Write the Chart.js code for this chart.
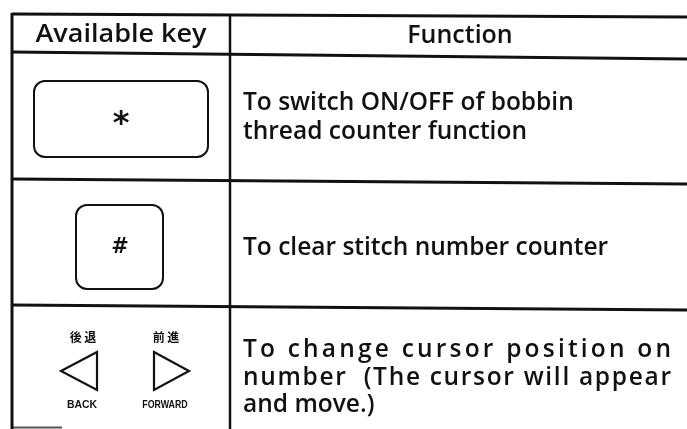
<!DOCTYPE html>
<html>
<head>
<meta charset="utf-8">
<script src="https://cdn.jsdelivr.net/npm/chart.js@4"></script>
<style>
  html, body { margin: 0; padding: 0; background: #fff; }
  #wrap { width: 687px; height: 429px; }
</style>
</head>
<body>
<div id="wrap"><canvas id="keyTable"></canvas></div>
<script>
// table contents
const HEADERS = ['Available key', 'Function']
const KEY_SYMBOLS = ['*', '#']
const ARROW_KANJI = ['後 退', '前 進']
const ARROW_NAMES = ['BACK', 'FORWARD']
const FUNCTION_LINES = [
    ['To switch ON/OFF of bobbin', 'thread counter function'],
    ['To clear stitch number counter'],
    ['To change cursor position on', 'number  (The cursor will appear', 'and move.)']
]
const JUSTIFIED = [[false, false], [false], [true, true, false]]

// layout (page units, same as the axes)
const LEFT_X = 12, DIVIDER_X = 230, RIGHT_X = 687
const RULES = [[14, 17], [52, 59], [179, 184], [305, 310]] // [y at left, y at right]
const TEXT_X = 243, JUSTIFY_TO = 671
const FUNCTION_Y = [[103, 132], [248], [350, 378, 405]]
const FONT = '"Open Sans", "Noto Sans", sans-serif'

const ctxEl = document.getElementById('keyTable').getContext('2d')

const tablePlugin = {
    id: 'tablePlugin',
    afterDraw(chart) {
        const ctx = chart.ctx
        const xs = chart.scales.x, ys = chart.scales.y
        const X = (v) => xs.getPixelForValue(v)
        const Y = (v) => ys.getPixelForValue(v)
        ctx.save()
        ctx.strokeStyle = '#111'
        ctx.fillStyle = '#111'

        //Horizontal rules
        ctx.lineWidth = 3
        RULES.forEach((r) => {
            ctx.beginPath()
            ctx.moveTo(X(LEFT_X), Y(r[0]))
            ctx.lineTo(X(RIGHT_X), Y(r[1]))
            ctx.stroke()
        })
        // bottom rule only shows on the left
        ctx.lineWidth = 2
        ctx.strokeStyle = '#555'
        ctx.beginPath()
        ctx.moveTo(X(LEFT_X), Y(427.5))
        ctx.lineTo(X(62), Y(427.5))
        ctx.stroke()
        ctx.strokeStyle = '#111'

        //Vertical rules
        ctx.lineWidth = 3
        ctx.beginPath()
        ctx.moveTo(X(LEFT_X), Y(13))
        ctx.lineTo(X(LEFT_X), Y(429))
        ctx.stroke()
        ctx.lineWidth = 2.5
        ctx.beginPath()
        ctx.moveTo(X(DIVIDER_X), Y(15))
        ctx.lineTo(X(DIVIDER_X), Y(429))
        ctx.stroke()

        //Headers
        ctx.font = '600 25px ' + FONT
        ctx.textAlign = 'center'
        ctx.textBaseline = 'middle'
        ctx.save()
        ctx.translate(X((LEFT_X + DIVIDER_X) / 2), Y(35))
        ctx.scale(1.08, 1)
        ctx.fillText(HEADERS[0], 0, 0)
        ctx.restore()
        ctx.fillText(HEADERS[1], X(460), Y(36))

        //Function texts
        ctx.font = '600 24.5px ' + FONT
        ctx.textAlign = 'left'
        FUNCTION_LINES.forEach((lines, r) => {
            lines.forEach((line, i) => {
                const y = Y(FUNCTION_Y[r][i])
                if (JUSTIFIED[r][i]) {
                    const chars = [...line]
                    const w = ctx.measureText(line).width
                    const gap = (X(JUSTIFY_TO) - X(TEXT_X) - w) / (chars.length - 1)
                    let x = X(TEXT_X)
                    chars.forEach((c) => {
                        ctx.fillText(c, x, y)
                        x += ctx.measureText(c).width + gap
                    })
                } else {
                    ctx.fillText(line, X(TEXT_X), y)
                }
            })
        })

        //Key boxes
        ctx.lineWidth = 2
        const box = (x0, y0, x1, y1, rad) => {
            ctx.beginPath()
            ctx.roundRect(X(x0), Y(y0), X(x1) - X(x0), Y(y1) - Y(y0), rad)
            ctx.stroke()
        }
        box(34, 81, 208, 157, 11)
        box(76, 205, 163, 289, 11)
        ctx.textAlign = 'center'
        ctx.font = 'bold 32px "DejaVu Sans", sans-serif'
        ctx.fillText(KEY_SYMBOLS[0], X(121), Y(125))
        ctx.font = 'bold 21px "DejaVu Sans", sans-serif'
        ctx.fillText(KEY_SYMBOLS[1], X(120), Y(248))

        //Arrow keys
        ctx.font = 'bold 12px "Noto Sans CJK JP", sans-serif'
        ctx.fillText(ARROW_KANJI[0], X(83), Y(337))
        ctx.fillText(ARROW_KANJI[1], X(166), Y(337))
        ctx.lineWidth = 2.2
        ctx.lineJoin = 'miter'
        ctx.beginPath()
        ctx.moveTo(X(97), Y(352))
        ctx.lineTo(X(61), Y(371))
        ctx.lineTo(X(97), Y(390))
        ctx.closePath()
        ctx.stroke()
        ctx.beginPath()
        ctx.moveTo(X(154), Y(352))
        ctx.lineTo(X(189), Y(371))
        ctx.lineTo(X(154), Y(390))
        ctx.closePath()
        ctx.stroke()
        ctx.font = 'bold 11px "Liberation Sans", sans-serif'
        ctx.save()
        ctx.translate(X(82), Y(405))
        ctx.scale(0.95, 1)
        ctx.fillText(ARROW_NAMES[0], 0, 0)
        ctx.restore()
        ctx.save()
        ctx.translate(X(165), Y(405))
        ctx.scale(0.8, 1)
        ctx.fillText(ARROW_NAMES[1], 0, 0)
        ctx.restore()

        ctx.restore()
    }
}

const keyChart = new Chart(ctxEl, {
    type: 'scatter',
    data: { datasets: [{ data: [], pointRadius: 0 }] },
    options: {
        responsive: true,
        maintainAspectRatio: false,
        animation: false,
        layout: { padding: 0 },
        plugins: { legend: { display: false }, tooltip: { enabled: false } },
        scales: {
            x: { type: 'linear', min: 0, max: 687, display: false },
            y: { type: 'linear', min: 0, max: 429, reverse: true, display: false }
        }
    },
    plugins: [tablePlugin]
})
</script>
</body>
</html>
